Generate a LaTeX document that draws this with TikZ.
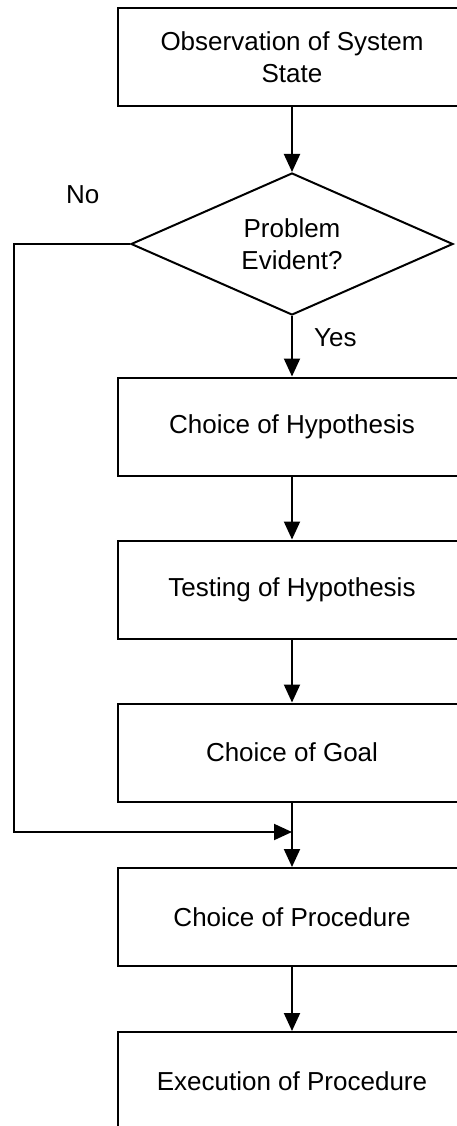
\documentclass[tikz,border=0pt]{standalone}
\usepackage{fontspec}
\setmainfont{Liberation Sans}
\usetikzlibrary{arrows.meta,shapes.geometric}

\begin{document}
\begin{tikzpicture}[x=1pt,y=-1pt,
  every node/.style={font=\fontsize{26}{31.5}\selectfont},
  stepbox/.style={draw,line width=2pt,rectangle,minimum width=348pt,minimum height=98pt,inner sep=0pt,align=center},
  decision/.style={draw,line width=2pt,diamond,aspect=2.27,minimum width=322pt,minimum height=142pt,inner sep=0pt,align=center},
  flow/.style={line width=2pt,-{Triangle[length=18pt,width=16pt]}},
  lbl/.style={inner sep=0pt,anchor=base west}
]
\useasboundingbox (0,0) rectangle (457,1126);
\clip (0,0) rectangle (457,1126);

% process steps and the decision
\node[stepbox]  (obs)  at (292,57)    {Observation of System\\State};
\node[decision] (dec)  at (292,244)   {Problem\\Evident?};
\node[stepbox]  (hyp)  at (292,426.5) {Choice of Hypothesis};
\node[stepbox]  (test) at (292,589.5) {Testing of Hypothesis};
\node[stepbox]  (goal) at (292,752.5) {Choice of Goal};
\node[stepbox]  (proc) at (292,917)   {Choice of Procedure};
\node[stepbox]  (exec) at (292,1081)  {Execution of Procedure};

% branch labels
\node[lbl] (no)  at (66,204)  {No};
\node[lbl] (yes) at (314,346) {Yes};

% bypass route for the "No" branch
\coordinate (corner) at (14,244);
\coordinate (merge)  at (292,832);

% connectors
\draw[flow] (obs) -- (dec);
\draw[flow] (dec.south) -- (hyp);
\draw[flow] (hyp) -- (test);
\draw[flow] (test) -- (goal);
\draw[flow] (goal) -- (proc);
\draw[flow] (proc) -- (exec);
\draw[flow] (dec.west) -- (corner) |- (merge);
\end{tikzpicture}
\end{document}
